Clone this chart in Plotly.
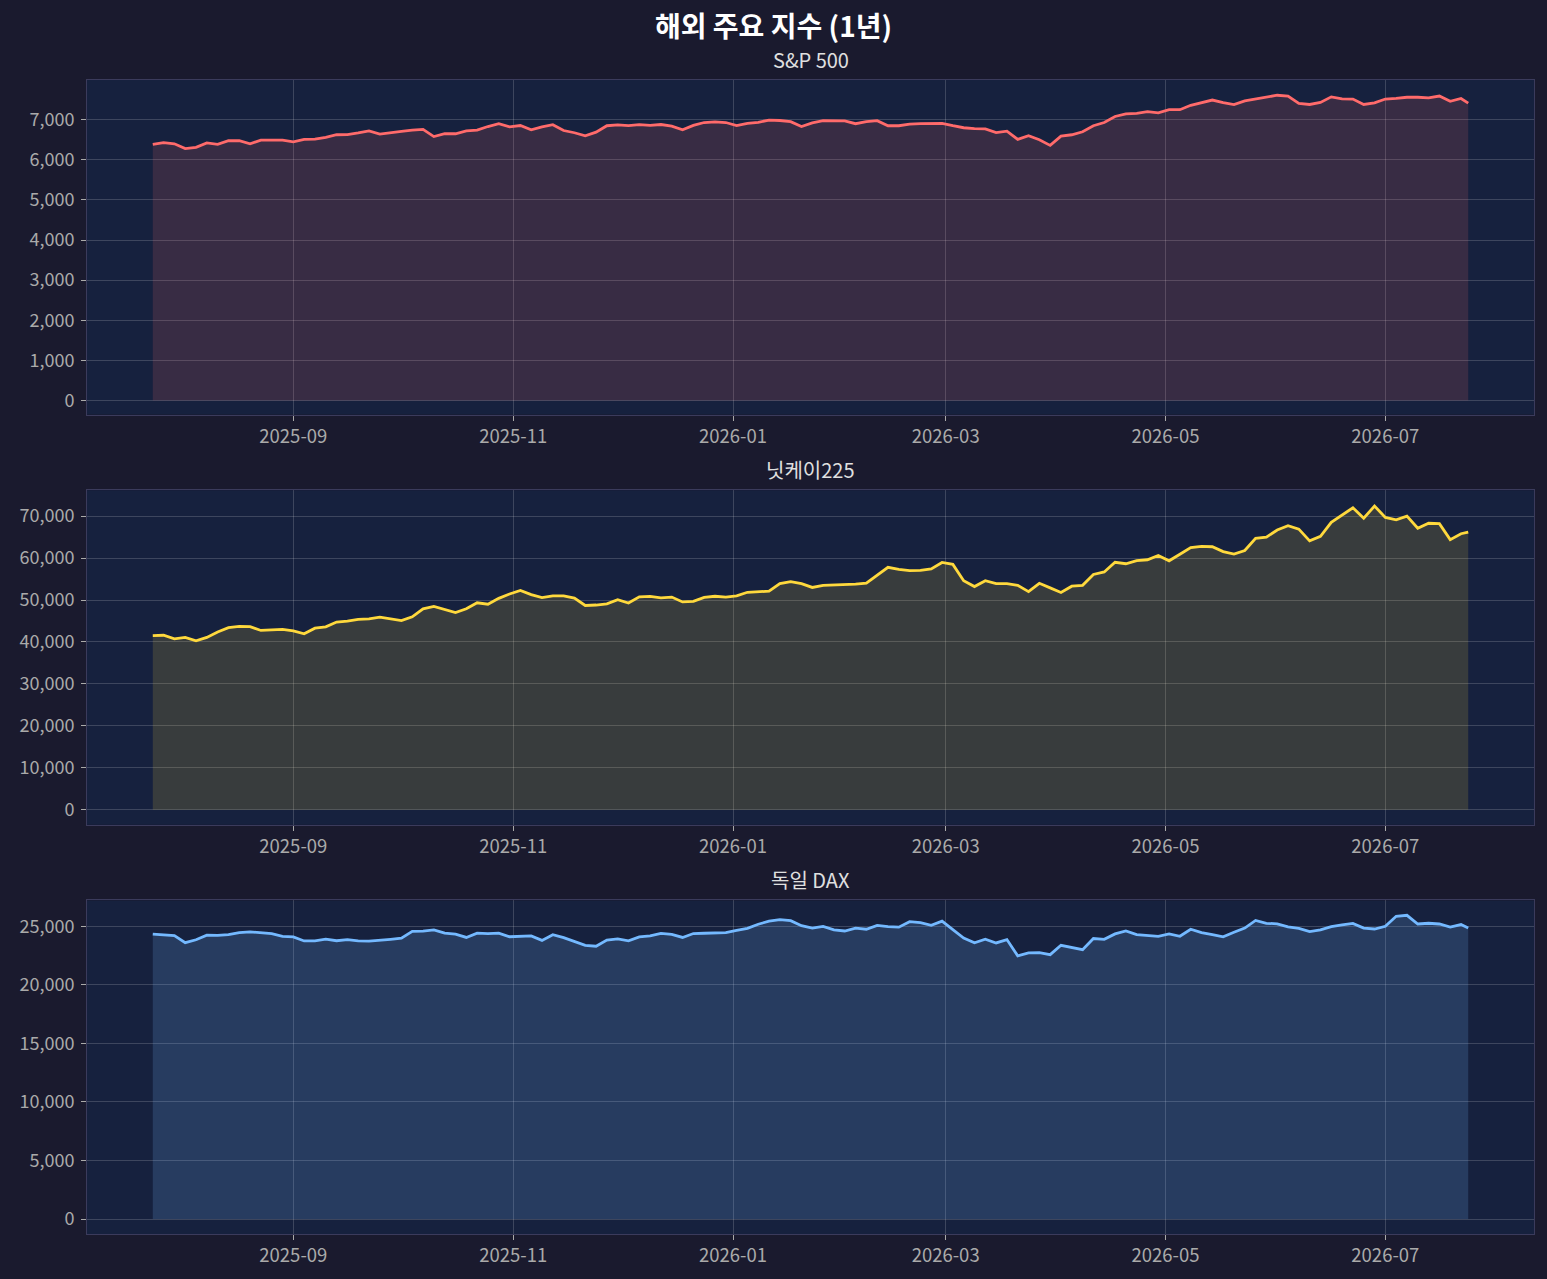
import pandas as pd
import plotly.graph_objects as go

# 3-day samples from 2025-07-24, plus the last trading day
dates = list(pd.date_range("2025-07-24", periods=122, freq="3D")) + [pd.Timestamp("2026-07-24")]

sp500 = [6385, 6430, 6400, 6280, 6310, 6420, 6385, 6480, 6475, 6400,
         6490, 6490, 6490, 6450, 6510, 6515, 6560, 6625, 6630, 6670,
         6720, 6640, 6680, 6710, 6740, 6760, 6580, 6650, 6650, 6720,
         6740, 6830, 6900, 6820, 6855, 6750, 6820, 6875, 6730, 6675,
         6600, 6690, 6850, 6870, 6855, 6880, 6860, 6880, 6840, 6750,
         6860, 6930, 6945, 6930, 6855, 6910, 6935, 6990, 6980, 6950,
         6830, 6920, 6975, 6975, 6970, 6900, 6950, 6975, 6850, 6850,
         6890, 6900, 6900, 6910, 6850, 6800, 6780, 6770, 6680, 6715,
         6510, 6600, 6500, 6360, 6590, 6625, 6700, 6850, 6930, 7080,
         7145, 7160, 7200, 7170, 7250, 7250, 7360, 7420, 7490, 7425,
         7375, 7470, 7515, 7560, 7610, 7590, 7405, 7380, 7430, 7570,
         7520, 7515, 7380, 7420, 7515, 7530, 7560, 7560, 7545, 7590,
         7460, 7530, 7415]

nikkei = [41500, 41600, 40750, 41100, 40280, 41100, 42400, 43400, 43700, 43650,
          42750, 42900, 43000, 42650, 41950, 43300, 43600, 44750, 44970, 45400,
          45500, 45900, 45400, 45080, 46000, 47900, 48500, 47700, 47000, 47900,
          49350, 49000, 50400, 51450, 52300, 51300, 50600, 51000, 51000, 50480,
          48700, 48810, 49100, 50100, 49300, 50750, 50850, 50500, 50700, 49550,
          49700, 50640, 50900, 50700, 51000, 51850, 52000, 52100, 53900, 54400,
          53900, 53000, 53500, 53580, 53560, 53800, 54000, 56000, 57790, 57300,
          57000, 57050, 57400, 58950, 58500, 54600, 53200, 54600, 53900, 53900,
          53500, 52000, 53980, 52900, 51800, 53300, 53500, 56100, 56700, 59000,
          58650, 59400, 59600, 60600, 59350, 60900, 62500, 62800, 62700, 61550,
          60950, 61800, 64700, 65000, 66700, 67700, 66900, 64100, 65200, 68500,
          70200, 72000, 69500, 72400, 69700, 69100, 70000, 67100, 68300, 68200,
          64400, 65800, 66190]

dax = [24330, 24250, 24200, 23600, 23850, 24250, 24220, 24300, 24470, 24530,
       24430, 24370, 24150, 24100, 23750, 23750, 23900, 23770, 23860, 23750,
       23730, 23780, 23890, 23990, 24570, 24590, 24700, 24420, 24330, 24050,
       24420, 24380, 24420, 24110, 24160, 24180, 23800, 24280, 24030, 23680,
       23370, 23300, 23820, 23920, 23760, 24100, 24180, 24390, 24310, 24050,
       24385, 24410, 24440, 24460, 24650, 24830, 25180, 25440, 25570, 25480,
       25050, 24850, 25000, 24700, 24600, 24850, 24750, 25080, 24970, 24930,
       25400, 25320, 25090, 25440, 24720, 24000, 23600, 23900, 23580, 23870,
       22480, 22730, 22750, 22580, 23380, 23200, 23010, 23960, 23890, 24350,
       24600, 24290, 24200, 24150, 24350, 24150, 24750, 24460, 24300, 24100,
       24490, 24850, 25500, 25260, 25210, 24950, 24830, 24550, 24700, 24980,
       25120, 25250, 24850, 24770, 25000, 25860, 25940, 25200, 25260, 25200,
       24940, 25150, 24860]

names = ["S&P 500", "닛케이225", "독일 DAX"]
series = [sp500, nikkei, dax]
colors = ["#ff6b6b", "#ffd93d", "#74b9ff"]
fills = ["rgba(255,107,107,0.15)", "rgba(255,217,61,0.15)", "rgba(116,185,255,0.18)"]

W, H = 1547, 1279
ml, mr, mt, mb = 87, 12, 80, 40
ph = H - mt - mb
# panel tops/bottoms in page pixels
panels = [(80, 416), (492, 828), (904, 1239)]

FONT = "Noto Sans CJK KR"
fig = go.Figure()
for i in range(3):
    fig.add_trace(go.Scatter(x=dates, y=series[i], mode="lines",
                             line=dict(color=colors[i], width=2.8),
                             fill="tozeroy", fillcolor=fills[i],
                             xaxis="x" if i == 0 else "x%d" % (i + 1),
                             yaxis="y" if i == 0 else "y%d" % (i + 1),
                             showlegend=False))

layout = dict(width=W, height=H, paper_bgcolor="#1a1a2e", plot_bgcolor="#16213e",
              margin=dict(l=ml, r=mr, t=mt, b=mb),
              font=dict(family=FONT, color="#aaaaaa", size=18),
              title=dict(text="<b>해외 주요 지수 (1년)</b>", x=0.5, xanchor="center",
                         y=1 - 27 / H, yanchor="middle",
                         font=dict(family=FONT, size=28, color="#ffffff")))

xr = ["2025-07-05 18:00", "2026-08-11 06:00"]
yranges = [[-350, 7990], [-3560, 76170], [-1275, 27210]]
ydticks = [1000, 10000, 5000]
annotations = []
for i, (top, bot) in enumerate(panels):
    sfx = "" if i == 0 else str(i + 1)
    dom = [(H - mb - bot) / ph, (H - mb - top) / ph]
    layout["xaxis" + sfx] = dict(domain=[0, 1], anchor="y" + sfx, range=xr, type="date",
                                 dtick="M2", tick0="2025-09-01", tickformat="%Y-%m",
                                 showgrid=True, gridcolor="rgba(255,255,255,0.17)", gridwidth=1,
                                 showline=True, linecolor="#3b3b5c", linewidth=1, mirror=True,
                                 ticks="outside", ticklen=5, tickcolor="#aaaaaa",
                                 zeroline=False, tickfont=dict(size=18.5, color="#aaaaaa"))
    layout["yaxis" + sfx] = dict(domain=dom, anchor="x" + sfx, range=yranges[i],
                                 dtick=ydticks[i], tick0=0, tickformat=",",
                                 showgrid=True, gridcolor="rgba(255,255,255,0.17)", gridwidth=1,
                                 showline=True, linecolor="#3b3b5c", linewidth=1, mirror=True,
                                 ticks="outside", ticklen=5, tickcolor="#aaaaaa",
                                 ticklabelstandoff=3,
                                 zeroline=False, tickfont=dict(size=18, color="#aaaaaa"))
    annotations.append(dict(text=names[i], xref="paper", yref="paper", x=0.5, y=dom[1],
                            xanchor="center", yanchor="bottom", yshift=4, showarrow=False,
                            font=dict(family=FONT, size=20, color="#e0e0e0")))
layout["annotations"] = annotations
fig.update_layout(**layout)

fig.write_html("out.html", config={"displayModeBar": False},
               post_script="document.body.style.margin='0';"
                           "document.body.style.background='#1a1a2e';")
